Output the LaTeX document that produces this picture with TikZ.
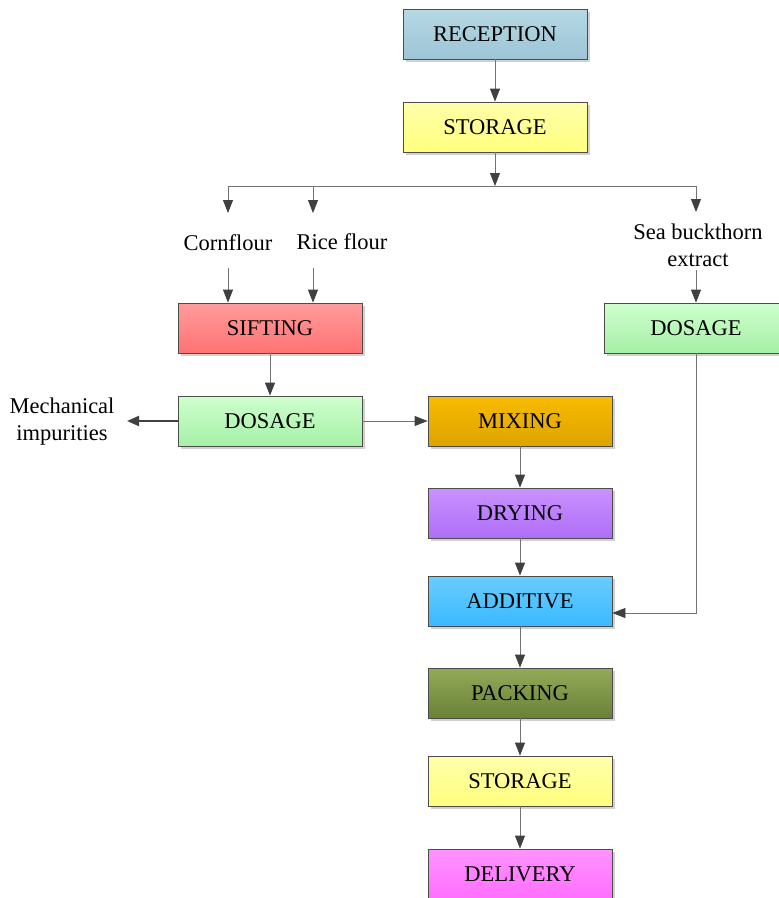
\documentclass[tikz,border=0pt]{standalone}
\usepackage{fontspec}
\setmainfont{Liberation Serif}
\usetikzlibrary{arrows.meta,shadows}

\definecolor{recTop}{HTML}{B6D8E4}\definecolor{recBot}{HTML}{9CC5D5}
\definecolor{stoTop}{HTML}{FFFFAA}\definecolor{stoBot}{HTML}{FFFF7E}
\definecolor{sifTop}{HTML}{FF9C9C}\definecolor{sifBot}{HTML}{FF7272}
\definecolor{dosTop}{HTML}{CEFFCE}\definecolor{dosBot}{HTML}{A6F0A6}
\definecolor{mixTop}{HTML}{F8BC00}\definecolor{mixBot}{HTML}{DDA300}
\definecolor{dryTop}{HTML}{CA92FF}\definecolor{dryBot}{HTML}{AE6EF6}
\definecolor{addTop}{HTML}{6ACDFF}\definecolor{addBot}{HTML}{3BB9FF}
\definecolor{pakTop}{HTML}{93AA5A}\definecolor{pakBot}{HTML}{6A8236}
\definecolor{delTop}{HTML}{FF94FF}\definecolor{delBot}{HTML}{FF6EFF}

\tikzset{
  procbox/.style 2 args={draw=black!70, line width=0.8pt,
    top color=#1, bottom color=#2,
    minimum width=184pt, minimum height=50pt, inner sep=0pt,
    drop shadow={shadow xshift=3pt, shadow yshift=-3pt, fill=black!18, opacity=1}},
  lbl/.style={inner sep=0pt, align=center},
  flow/.style={draw=black!55, line width=0.8pt,
    -{Triangle[length=13pt,width=10pt,fill=black!75,color=black!75]}},
  plain/.style={draw=black!55, line width=0.8pt},
  thickflow/.style={draw=black!75, line width=2pt,
    -{Triangle[length=12pt,width=10pt,fill=black!75,color=black!75]}}
}

\begin{document}
\begin{tikzpicture}[x=1pt,y=-1pt,font=\fontsize{22.5}{27}\selectfont]
\clip (0,0) rectangle (779,898);

% process boxes
\node[procbox={recTop}{recBot}] (rec)  at (495,34)  {RECEPTION};
\node[procbox={stoTop}{stoBot}] (sto1) at (495,127) {STORAGE};
\node[procbox={sifTop}{sifBot}] (sif)  at (270,328) {SIFTING};
\node[procbox={dosTop}{dosBot}] (dos1) at (270,421) {DOSAGE};
\node[procbox={dosTop}{dosBot}] (dos2) at (696,328) {DOSAGE};
\node[procbox={mixTop}{mixBot}] (mix)  at (520,421) {MIXING};
\node[procbox={dryTop}{dryBot}] (dry)  at (520,513) {DRYING};
\node[procbox={addTop}{addBot}] (add)  at (520,601) {ADDITIVE};
\node[procbox={pakTop}{pakBot}] (pak)  at (520,693) {PACKING};
\node[procbox={stoTop}{stoBot}] (sto2) at (520,781) {STORAGE};
\node[procbox={delTop}{delBot}] (del)  at (520,874) {DELIVERY};

% raw material labels
\node[lbl] (corn) at (228,243) {Cornflour};
\node[lbl] (rice) at (342,242) {Rice flour};
\node[lbl] (sea)  at (698,245) {Sea buckthorn\\extract};
\node[lbl] (mech) at (62,422)  {Mechanical\\impurities};

% distribution line below the first storage
\coordinate (split) at (495,186);
\coordinate (brL) at (228,186);
\coordinate (brM) at (313,186);
\coordinate (brR) at (696,186);
\coordinate (cornIn)  at (228,213);
\coordinate (riceIn)  at (313,213);
\coordinate (seaIn)   at (696,212);
\coordinate (cornOut) at (228,268);
\coordinate (riceOut) at (313,268);
\coordinate (seaOut)  at (696,270);
\coordinate (mechEnd) at (127,421);
\coordinate (bend)    at (696,613);

\draw[flow] (rec) -- (sto1);
\draw[flow] (sto1) -- (split);
\draw[plain] (brL) -- (brR);
\draw[flow] (brL) -- (cornIn);
\draw[flow] (brM) -- (riceIn);
\draw[flow] (brR) -- (seaIn);
\draw[flow] (cornOut) -- (cornOut |- sif.north);
\draw[flow] (riceOut) -- (riceOut |- sif.north);
\draw[flow] (seaOut) -- (dos2.north);
\draw[flow] (sif) -- (dos1);
\draw[thickflow] (dos1.west) -- (mechEnd);
\draw[flow] (dos1) -- (mix);
\draw[flow] (mix) -- (dry);
\draw[flow] (dry) -- (add);
\draw[flow] (dos2.south) -- (bend) -- (bend -| add.east);
\draw[flow] (add) -- (pak);
\draw[flow] (pak) -- (sto2);
\draw[flow] (sto2) -- (del);
\end{tikzpicture}
\end{document}
